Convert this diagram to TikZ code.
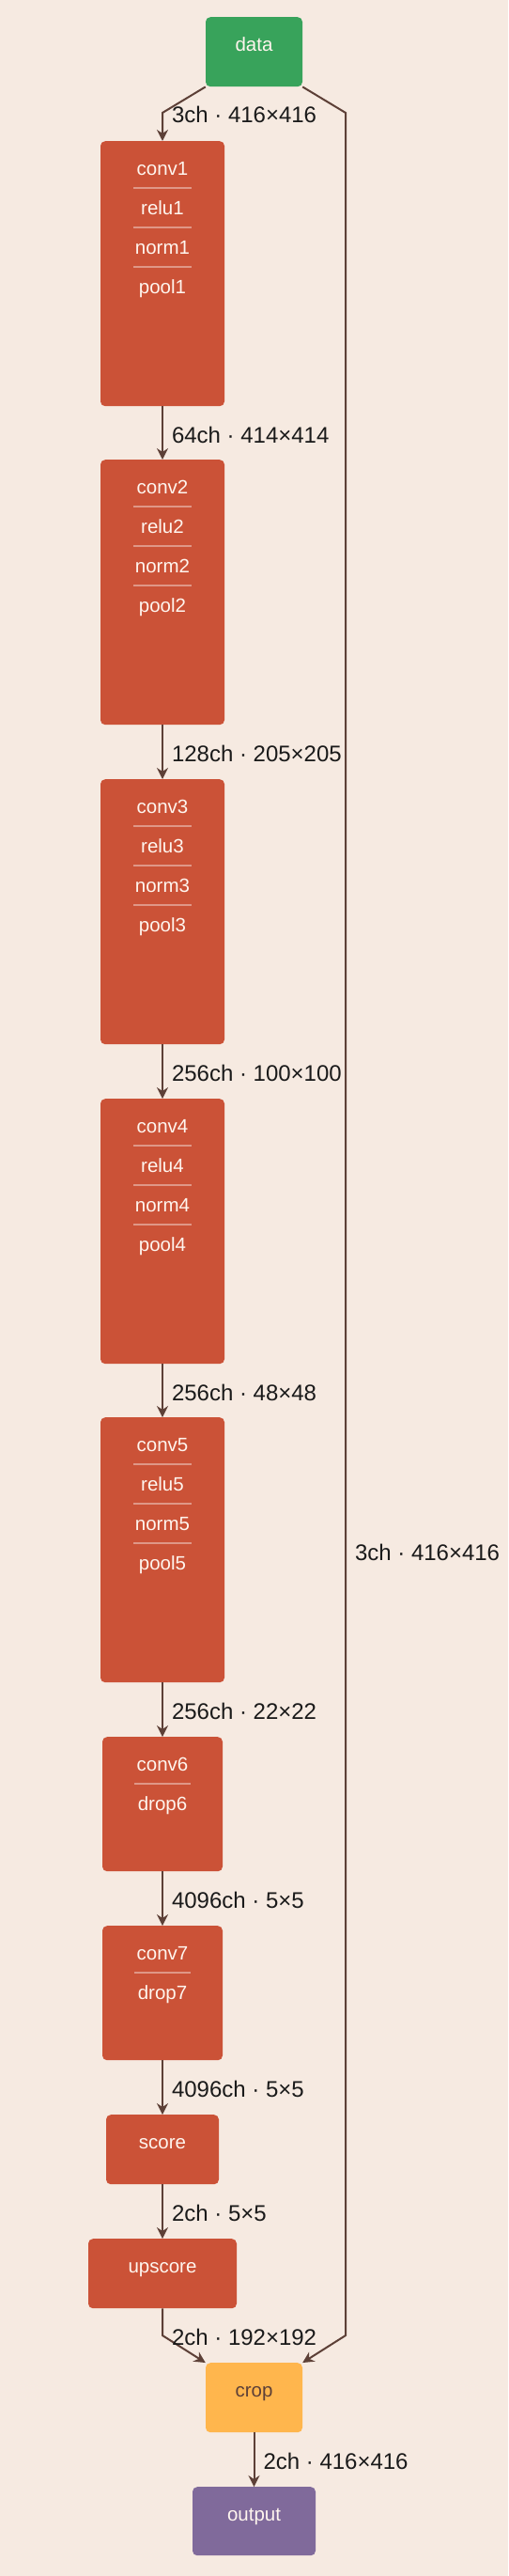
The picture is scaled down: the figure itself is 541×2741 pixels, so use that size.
\documentclass[tikz,border=0pt]{standalone}
\usepackage{fontspec}
\setmainfont{Liberation Sans}
\usetikzlibrary{arrows.meta}
\definecolor{bgcol}{HTML}{F6EAE1}
\definecolor{convred}{HTML}{CB5237}
\definecolor{datagreen}{HTML}{38A35B}
\definecolor{croporange}{HTML}{FFB64D}
\definecolor{outpurple}{HTML}{806A9B}
\definecolor{edgebrown}{HTML}{5D4037}
\definecolor{labelink}{HTML}{1A1A1A}
\definecolor{nodeink}{HTML}{FFF5EE}
\begin{document}
\begin{tikzpicture}[
    x={(1pt,0pt)}, y={(0pt,-1pt)},
    block/.style={rounded corners=5pt, fill=convred, anchor=north, inner sep=0pt,
        minimum width=132pt, minimum height=282pt},
    lname/.style={anchor=base, inner sep=0pt, text=nodeink,
        font=\fontsize{20.5}{24}\selectfont},
    sepline/.style={draw=white, draw opacity=0.4, line width=1.5pt},
    flow/.style={draw=edgebrown, line width=2pt,
        -{Stealth[length=12pt,width=12pt,inset=4pt]}},
    elabel/.style={anchor=west, inner sep=0pt, xshift=9pt, yshift=-2pt,
        text=labelink, font=\fontsize{24}{28}\selectfont}
    ]
    \fill[bgcol] (0,0) rectangle (541,2741);
    \useasboundingbox (0,0) rectangle (541,2741);

    % input
    \node[block, fill=datagreen, minimum width=103pt, minimum height=74pt] (data) at (270.5,18) {};
    \node[lname] (datatxt) at ([yshift=-36.5pt]data.north) {data};

    % conv1 .. conv5
    \foreach \i/\top in {1/150,2/489,3/829,4/1169,5/1508} {
        \node[block] (b\i) at (173,\top) {};
        \foreach \op [count=\k from 0] in {conv,relu,norm,pool} {
            \pgfmathsetmacro{\dy}{-36.5-42*\k}
            \node[lname] (\op\i) at ([yshift=\dy pt]b\i.north) {\op\i};
        }
        \foreach \k in {1,2,3} {
            \pgfmathsetmacro{\dy}{-8-42*\k}
            \draw[sepline] ([xshift=-31pt,yshift=\dy pt]b\i.north) -- ([xshift=31pt,yshift=\dy pt]b\i.north);
        }
    }

    % conv6, conv7
    \foreach \i/\top in {6/1848,7/2049} {
        \node[block, minimum width=128pt, minimum height=143pt] (b\i) at (173,\top) {};
        \node[lname] (conv\i) at ([yshift=-36.5pt]b\i.north) {conv\i};
        \node[lname] (drop\i) at ([yshift=-78.5pt]b\i.north) {drop\i};
        \draw[sepline] ([xshift=-30pt,yshift=-50pt]b\i.north) -- ([xshift=30pt,yshift=-50pt]b\i.north);
    }

    % head
    \node[block, minimum width=120pt, minimum height=74pt] (score) at (173,2250) {};
    \node[lname] (scoretxt) at ([yshift=-36.5pt]score.north) {score};
    \node[block, minimum width=158pt, minimum height=74pt] (upscore) at (173,2382) {};
    \node[lname] (upscoretxt) at ([yshift=-36.5pt]upscore.north) {upscore};
    \node[block, fill=croporange, minimum width=103pt, minimum height=74pt] (crop) at (270.5,2514) {};
    \node[lname, text=edgebrown] (croptxt) at ([yshift=-36.5pt]crop.north) {crop};
    \node[block, fill=outpurple, minimum width=131pt, minimum height=73pt] (output) at (270.5,2646) {};
    \node[lname] (outputtxt) at ([yshift=-36.5pt]output.north) {output};

    % connectors
    \coordinate (skiptop) at (368,120);
    \coordinate (skipbot) at (368,2485);
    \draw[flow] (data.south west) -- (b1.north |- skiptop) node[elabel] {3ch · 416×416} -- (b1.north);
    \draw[flow] (data.south east) -- (skiptop) -- node[elabel, pos=0.647] {3ch · 416×416} (skipbot) -- (crop.north east);
    \foreach \a/\b/\txt in {b1/b2/64ch · 414×414, b2/b3/128ch · 205×205, b3/b4/256ch · 100×100,
        b4/b5/256ch · 48×48, b5/b6/256ch · 22×22, b6/b7/4096ch · 5×5,
        b7/score/4096ch · 5×5, score/upscore/2ch · 5×5}
        \draw[flow] (\a.south) -- node[elabel] {\txt} (\b.north);
    \draw[flow] (upscore.south) -- (upscore.south |- skipbot) node[elabel] {2ch · 192×192} -- (crop.north west);
    \draw[flow] (crop.south) -- node[elabel] {2ch · 416×416} (output.north);
\end{tikzpicture}
\end{document}
